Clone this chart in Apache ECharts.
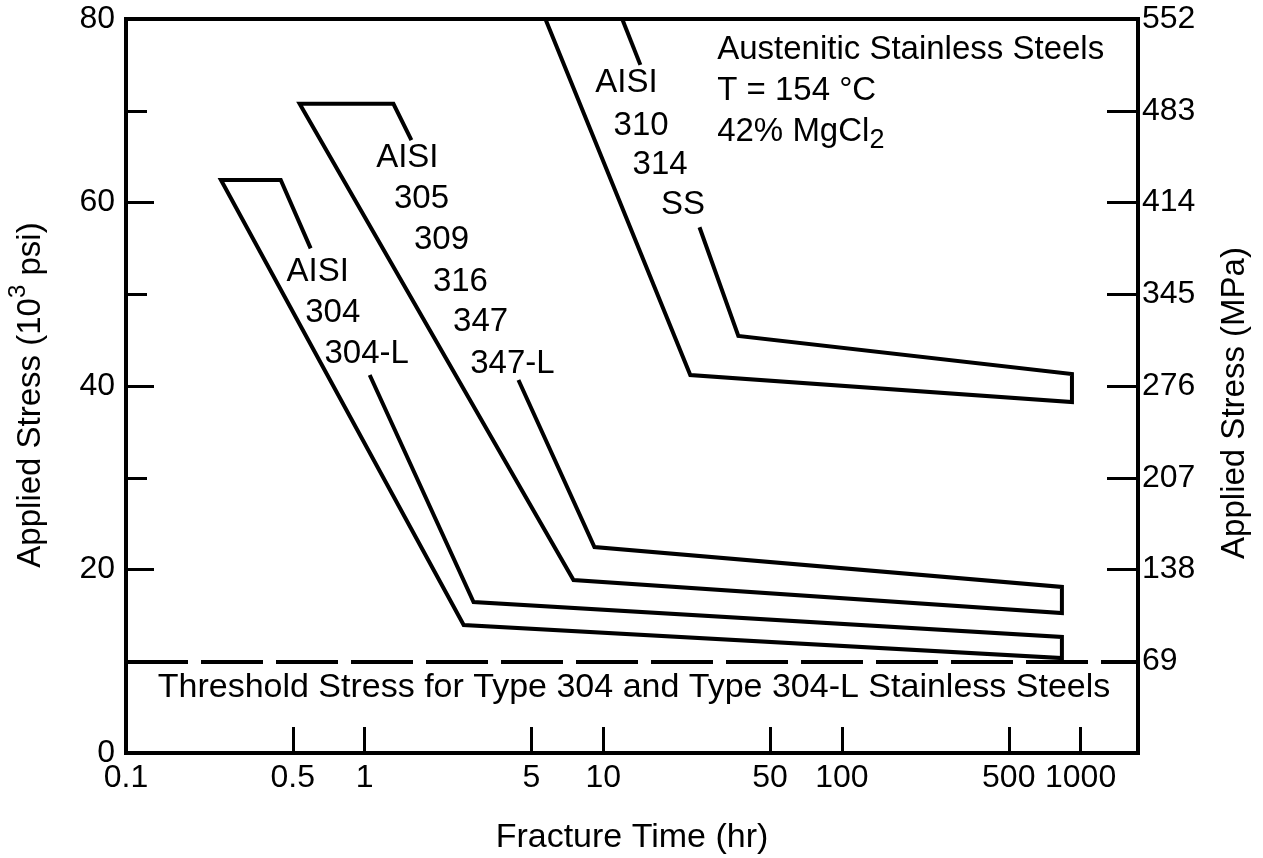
<!DOCTYPE html>
<html>
<head>
<meta charset="utf-8">
<title>Fracture Time of Austenitic Stainless Steels in MgCl2</title>
<script src="https://cdn.jsdelivr.net/npm/echarts@6/dist/echarts.min.js"></script>
<style>
  html, body { margin: 0; padding: 0; background: #fff; }
  #chart { width: 1263px; height: 858px; }
</style>
</head>
<body>
<div id="chart"></div>
<script>
// Fracture time (hr, log scale) against applied stress (10^3 psi)
const xTickValues = [0.5, 1, 5, 10, 50, 100, 500, 1000];
const xTickLabels = [0.1, 0.5, 1, 5, 10, 50, 100, 500, 1000];
const mpaLabels = ['', '69', '138', '207', '276', '345', '414', '483', '552'];
const thresholdKsi = 10;

// Band outlines as [hours, ksi]; each band is open where its grade label sits
const band304 = [[1.05, 41.2], [2.86, 16.45], [835, 12.65], [835, 10.35], [2.6, 13.95],
                 [0.25, 62.45], [0.445, 62.45], [0.594, 55.0]];
const band305 = [[4.41, 40.65], [9.18, 22.45], [835, 18.1], [835, 15.25], [7.5, 18.85],
                 [0.534, 70.75], [1.32, 70.75], [1.57, 66.8]];
const band310 = [[25.3, 57.3], [36.8, 45.45], [920, 41.3], [920, 38.25], [23.15, 41.2], [5.72, 80]];
const band310Tail = [[12.0, 80], [14.3, 75.0]];

// Grade labels beside each band
const gradeText = ['AISI', '304', '304-L',
                   'AISI', '305', '309', '316', '347', '347-L',
                   'AISI', '310', '314', 'SS'];
const gradeAt = [[0.636, 52.4], [0.735, 47.95], [1.02, 43.5],
                 [1.51, 64.85], [1.73, 60.4], [2.1, 55.9], [2.52, 51.3], [3.06, 47.0], [4.16, 42.4],
                 [12.5, 73.0], [14.4, 68.3], [17.3, 64.1], [21.6, 59.7]];

// Test conditions, top right
const conditionText = ['Austenitic Stainless Steels', 'T = 154 °C', '42% MgCl{sub|2}'];
const conditionAt = [[30, 76.6], [30, 72.15], [30, 67.7]];

const FONT = '"Liberation Sans", Arial, Helvetica, sans-serif';
const INK = '#000';

function outline(data) {
  return {
    type: 'line',
    data: data,
    symbol: 'none',
    showSymbol: false,
    silent: true,
    clip: true,
    lineStyle: { color: INK, width: 4, join: 'miter', cap: 'butt' }
  };
}

function textLayer(texts, at, label) {
  return {
    type: 'scatter',
    silent: true,
    symbolSize: 0,
    itemStyle: { color: INK, opacity: 1 },
    emphasis: { disabled: true },
    data: texts.map((t, i) => ({ name: t, value: at[i] })),
    label: Object.assign({ show: true, formatter: '{b}', color: INK, opacity: 1,
                           fontSize: 33, fontFamily: FONT, textBorderWidth: 0 }, label)
  };
}

const chart = echarts.init(document.getElementById('chart'), null, { renderer: 'canvas' });

const thresholdSeries = outline(band304);
thresholdSeries.markLine = {
  silent: true,
  symbol: 'none',
  label: { show: false },
  lineStyle: { color: INK, width: 4, type: [62, 13] },
  data: [{ yAxis: thresholdKsi }]
};

chart.setOption({
  animation: false,
  backgroundColor: '#fff',
  grid: {
    left: 126, right: 125, top: 19, bottom: 105,
    show: true, borderColor: INK, borderWidth: 4, backgroundColor: 'transparent'
  },
  xAxis: {
    type: 'log',
    logBase: 10,
    min: 0.1,
    max: 1740,
    axisLine: { show: true, onZero: false, lineStyle: { color: INK, width: 4 } },
    axisTick: { show: true, inside: true, length: 26, customValues: xTickValues,
                lineStyle: { color: INK, width: 3 } },
    axisLabel: { show: true, customValues: xTickLabels, margin: 9, color: INK,
                 fontSize: 32, fontFamily: FONT, formatter: v => String(v) },
    splitLine: { show: false },
    minorTick: { show: false }
  },
  yAxis: [
    {
      type: 'value', min: 0, max: 80, interval: 20, position: 'left',
      axisLine: { show: true, lineStyle: { color: INK, width: 4 } },
      axisTick: { show: true, inside: true, length: 28, lineStyle: { color: INK, width: 3 } },
      minorTick: { show: true, splitNumber: 2, length: 21, lineStyle: { color: INK, width: 3 } },
      axisLabel: { color: INK, fontSize: 32, fontFamily: FONT, margin: 11 },
      splitLine: { show: false }
    },
    {
      type: 'value', min: 0, max: 80, interval: 10, position: 'right',
      axisLine: { show: true, lineStyle: { color: INK, width: 4 } },
      axisTick: { show: true, inside: true, length: 31, lineStyle: { color: INK, width: 3 } },
      axisLabel: { color: INK, fontSize: 32, fontFamily: FONT, margin: 4,
                   formatter: v => mpaLabels[Math.round(v / 10)] },
      splitLine: { show: false }
    }
  ],
  series: [
    thresholdSeries,
    outline(band305),
    outline(band310),
    outline(band310Tail),
    textLayer(gradeText, gradeAt, { position: 'inside' }),
    textLayer(conditionText, conditionAt, {
      position: 'right', distance: 0, align: 'left', lineHeight: 44,
      rich: { sub: { fontSize: 27, fontFamily: FONT, color: INK,
                     verticalAlign: 'bottom', lineHeight: 22 } }
    })
  ],
  graphic: [
    {
      type: 'text', x: 31, y: 395, rotation: Math.PI / 2, silent: true,
      style: {
        text: '{m|Applied Stress (10}{s|3}{m| psi)}',
        rich: {
          m: { fontSize: 33, fontFamily: FONT, fill: INK, color: INK, lineHeight: 50 },
          s: { fontSize: 24, fontFamily: FONT, fill: INK, color: INK, verticalAlign: 'top', lineHeight: 24 }
        },
        align: 'center', verticalAlign: 'middle', textAlign: 'center', textVerticalAlign: 'middle'
      }
    },
    {
      type: 'text', x: 1235, y: 403, rotation: Math.PI / 2, silent: true,
      style: {
        text: 'Applied Stress (MPa)', fontSize: 33, fontFamily: FONT, fill: INK,
        align: 'center', verticalAlign: 'middle', textAlign: 'center', textVerticalAlign: 'middle'
      }
    },
    {
      type: 'text', x: 632, y: 838, silent: true,
      style: {
        text: 'Fracture Time (hr)', fontSize: 34, fontFamily: FONT, fill: INK,
        align: 'center', verticalAlign: 'middle', textAlign: 'center', textVerticalAlign: 'middle'
      }
    },
    {
      type: 'text', x: 634, y: 688, silent: true,
      style: {
        text: 'Threshold Stress for Type 304 and Type 304-L Stainless Steels',
        fontSize: 34, fontFamily: FONT, fill: INK,
        align: 'center', verticalAlign: 'middle', textAlign: 'center', textVerticalAlign: 'middle'
      }
    }
  ]
});
</script>
</body>
</html>
